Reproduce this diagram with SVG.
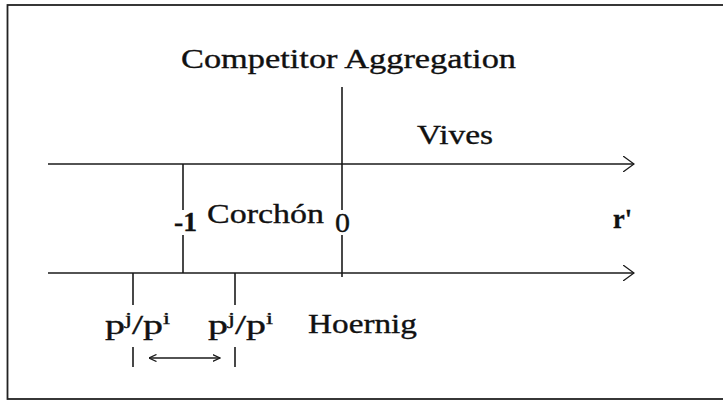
<svg xmlns="http://www.w3.org/2000/svg" width="723" height="401" viewBox="0 0 723 401">
<defs>
<style>
.ln{stroke:#1a1a1a;stroke-width:1.6;fill:none}
.hd{stroke:#1a1a1a;stroke-width:1.3;fill:none}
.t{font-family:"Liberation Serif","Times New Roman",serif;font-size:27px;fill:#111;stroke:#111;stroke-width:0.35}
.b{font-weight:bold}
.sup{font-size:17px}
</style>
<marker id="ah" viewBox="0 0 12 16" refX="11" refY="8" markerWidth="12" markerHeight="16" markerUnits="userSpaceOnUse" orient="auto-start-reverse">
<path d="M0,0 L11,8 L0,16" class="hd"/>
</marker>
<marker id="sh" viewBox="0 0 8 8" refX="7.5" refY="4" markerWidth="8" markerHeight="8" markerUnits="userSpaceOnUse" orient="auto-start-reverse">
<path d="M0,0.5 L7.5,4 L0,7.5" class="hd"/>
</marker>
</defs>
<rect width="723" height="401" fill="#fff"/>
<rect x="7.5" y="5" width="717" height="394" fill="none" stroke="#222" stroke-width="1.8"/>

<g id="connectors">
<line id="vives-axis" x1="48" y1="164" x2="634" y2="164" class="ln" marker-end="url(#ah)"/>
<line id="hoernig-axis" x1="48" y1="273" x2="634" y2="273" class="ln" marker-end="url(#ah)"/>
<line x1="342" y1="87" x2="342" y2="210" class="ln"/>
<line x1="342" y1="235" x2="342" y2="277" class="ln"/>
<line x1="183" y1="164" x2="183" y2="210" class="ln"/>
<line x1="183" y1="235" x2="183" y2="273" class="ln"/>
<line x1="133" y1="273" x2="133" y2="305" class="ln"/>
<line x1="133" y1="347" x2="133" y2="367" class="ln"/>
<line x1="235" y1="273" x2="235" y2="305" class="ln"/>
<line x1="235" y1="347" x2="235" y2="367" class="ln"/>
<line x1="149" y1="358" x2="220" y2="358" class="hd" marker-start="url(#sh)" marker-end="url(#sh)"/>
</g>

<g id="title"><text class="t" x="181" y="68" font-size="29" textLength="335" lengthAdjust="spacingAndGlyphs">Competitor Aggregation</text></g>
<g id="vives"><text class="t" x="417" y="144" textLength="76" lengthAdjust="spacingAndGlyphs">Vives</text></g>
<g id="corchon"><text class="t" x="207" y="223" textLength="117" lengthAdjust="spacingAndGlyphs">Corchón</text></g>
<g id="minus-one"><text class="t b" x="174" y="231" font-size="29" textLength="23" lengthAdjust="spacingAndGlyphs">-1</text></g>
<g id="zero"><text class="t" x="335" y="232" textLength="15" lengthAdjust="spacingAndGlyphs">0</text></g>
<g id="r-prime"><text class="t b" x="613" y="228" font-size="29" textLength="19" lengthAdjust="spacingAndGlyphs">r'</text></g>
<g id="ratio-1"><text class="t" x="105" y="334" font-size="30" textLength="65" lengthAdjust="spacingAndGlyphs">p<tspan class="sup" dy="-10">j</tspan><tspan dy="10">/p</tspan><tspan class="sup" dy="-10">i</tspan></text></g>
<g id="ratio-2"><text class="t" x="208" y="334" font-size="30" textLength="65" lengthAdjust="spacingAndGlyphs">p<tspan class="sup" dy="-10">j</tspan><tspan dy="10">/p</tspan><tspan class="sup" dy="-10">i</tspan></text></g>
<g id="hoernig"><text class="t" x="308" y="333" textLength="109" lengthAdjust="spacingAndGlyphs">Hoernig</text></g>
</svg>
